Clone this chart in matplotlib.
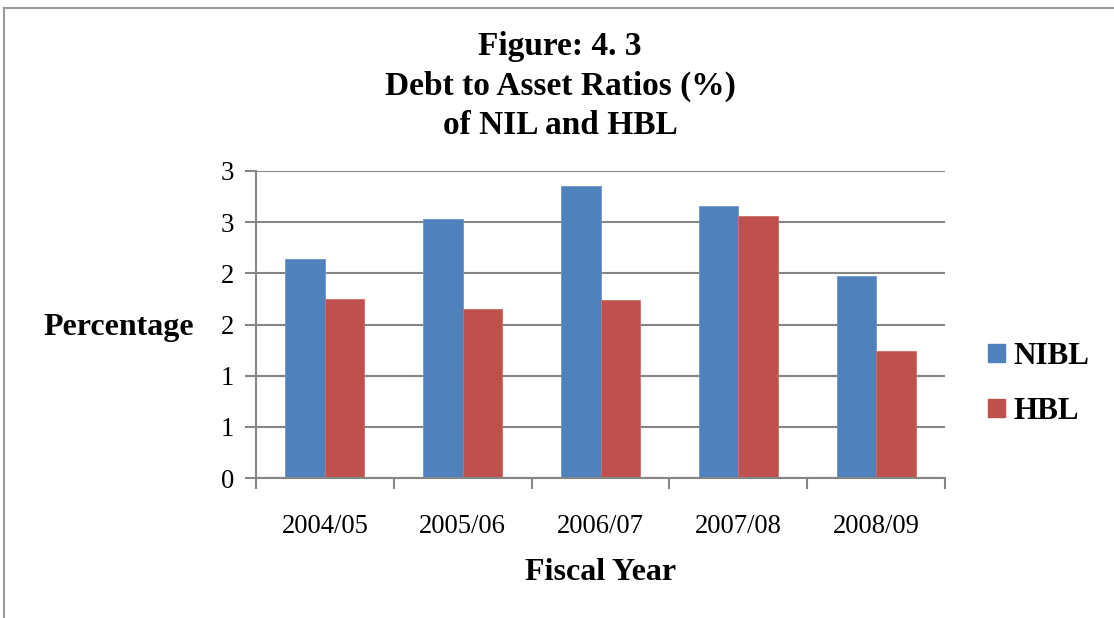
import matplotlib
matplotlib.use("Agg")
import matplotlib.pyplot as plt
import numpy as np
from matplotlib.lines import Line2D
from matplotlib.ticker import FixedLocator, NullFormatter

years = ["2004/05", "2005/06", "2006/07", "2007/08", "2008/09"]
nibl = [2.14, 2.53, 2.85, 2.66, 1.97]
hbl = [1.75, 1.65, 1.74, 2.56, 1.24]
series_names = ["NIBL", "HBL"]
ytick_vals = [0, 0.5, 1.0, 1.5, 2.0, 2.5, 3.0]
ytick_labels = ["0", "1", "1", "2", "2", "3", "3"]

W, H = 1114, 618
fig = plt.figure(figsize=(W / 100, H / 100), dpi=100)
fig.patch.set_facecolor("white")
plt.rcParams["font.family"] = ["Liberation Serif", "DejaVu Serif"]

ax = fig.add_axes([256 / W, 1 - 478 / H, (945 - 256) / W, (478 - 171) / H])
x = np.arange(len(years))
bw = 0.287
ax.bar(x - bw / 2, nibl, bw, color="#4F81BD", edgecolor="#6D95C9", linewidth=0.6, zorder=3, label=series_names[0])
ax.bar(x + bw / 2, hbl, bw, color="#C0504D", edgecolor="#CD6E6B", linewidth=0.6, zorder=3, label=series_names[1])

ax.set_xlim(-0.5, len(years) - 0.5)
ax.set_ylim(0, 3.0)
ax.set_yticks(ytick_vals)
ax.set_yticklabels(ytick_labels)
ax.set_xticks(x)
ax.set_xticklabels(years)
ax.xaxis.set_minor_locator(FixedLocator(np.arange(-0.5, len(years), 1.0)))
ax.xaxis.set_minor_formatter(NullFormatter())
ax.tick_params(axis="x", which="major", length=0, pad=26, labelsize=19.2)
ax.tick_params(axis="x", which="minor", length=8, width=1.5, color="#868686", direction="out")
ax.tick_params(axis="y", length=8, width=1.5, color="#868686", direction="out", pad=8, labelsize=19.2)
ax.grid(axis="y", color="#868686", linewidth=1.5, zorder=0)
for s in ["top", "right"]:
    ax.spines[s].set_visible(False)
for s in ["left", "bottom"]:
    ax.spines[s].set_color("#868686")
    ax.spines[s].set_linewidth(1.5)
    ax.spines[s].set_zorder(4)

fig.text(560 / W, 1 - 86 / H, "Figure: 4. 3\nDebt to Asset Ratios (%)\nof NIL and HBL",
         ha="center", va="center", fontsize=24, fontweight="bold", linespacing=1.35)
fig.text(118.5 / W, 1 - 327 / H, "Percentage", ha="center", va="center", fontsize=23, fontweight="bold")
fig.text(601 / W, 1 - 573 / H, "Fiscal Year", ha="center", va="center", fontsize=23, fontweight="bold")

handles = [plt.Rectangle((0, 0), 1, 1, color="#4F81BD"), plt.Rectangle((0, 0), 1, 1, color="#C0504D")]
fig.legend(handles, series_names, loc="center left", bbox_to_anchor=(988 / W, 1 - 384 / H),
           frameon=False, prop={"size": 22.4, "weight": "bold"}, handlelength=0.55, handleheight=0.55,
           handletextpad=0.26, labelspacing=0.84, borderaxespad=0, borderpad=0)

fig.add_artist(Line2D([3.5 / W, 3.5 / W], [0, 1 - 8 / H], color="#9a9a9a", linewidth=1.5, transform=fig.transFigure))
fig.add_artist(Line2D([3.5 / W, 1], [1 - 8 / H, 1 - 8 / H], color="#9a9a9a", linewidth=1.5, transform=fig.transFigure))

fig.savefig("out.png", dpi=100, facecolor="white")
